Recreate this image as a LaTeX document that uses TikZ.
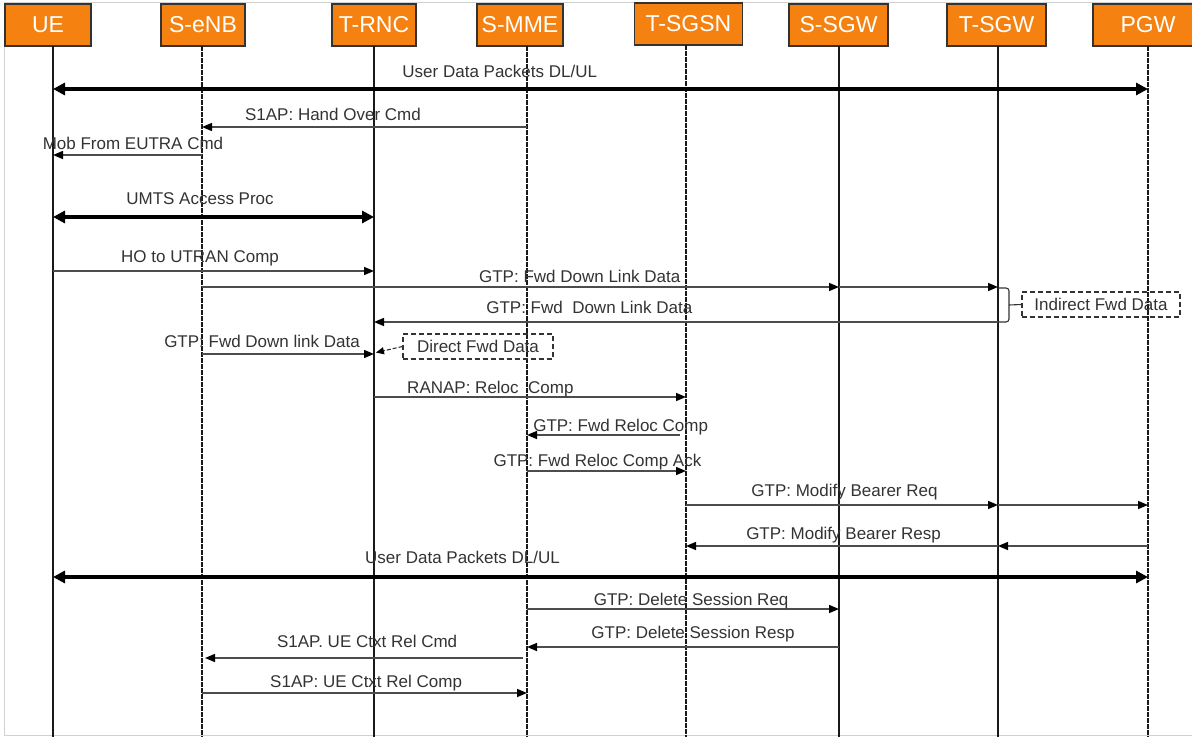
\documentclass[tikz,border=0pt]{standalone}
\usepackage{fontspec}
\setmainfont{Liberation Sans}
\usetikzlibrary{arrows.meta}

\definecolor{hdr}{RGB}{245,130,16}

\begin{document}
\begin{tikzpicture}[
    x=1pt, y=-1pt,
    font=\fontsize{17}{20}\selectfont,
    >={Triangle[length=10pt,width=8pt,color=black]},
    actor/.style={draw=black!80, line width=1.2pt, fill=hdr, text=white,
                  font=\fontsize{23}{26}\selectfont, minimum height=42pt, inner sep=0pt},
    life/.style={draw=black!90, line width=1.2pt},
    lifedash/.style={dash pattern=on 5pt off 1pt},
    msg/.style={->, draw=black!70, line width=1.5pt},
    data/.style={{Triangle[length=12pt,width=12pt]}-{Triangle[length=12pt,width=12pt]},
                 draw=black, line width=4pt},
    lbl/.style={above, inner sep=3.5pt, text height=12pt, text depth=3.5pt, text=black!80},
    note/.style={draw=black!80, dash pattern=on 5pt off 3pt, line width=1.1pt,
                 minimum height=25pt, inner sep=0pt, text=black!80},
    frame/.style={draw=black!18, line width=1pt},
]
\useasboundingbox (0,0) rectangle (1192,737);
\draw[frame] (4,2.5) rectangle (1200,735);

% ---- Headers ------------------------------------------------------
\node[actor, minimum width=86pt]  (ue)    at (48,25)     {UE};
\node[actor, minimum width=84pt]  (senb)  at (203,25)    {S-eNB};
\node[actor, minimum width=84pt]  (trnc)  at (374,25)    {T-RNC};
\node[actor, minimum width=86pt]  (smme)  at (520,25)    {S-MME};
\node[actor, minimum width=108pt] (tsgsn) at (688.5,24)  {T-SGSN};
\node[actor, minimum width=99pt]  (ssgw)  at (838.5,25)  {S-SGW};
\node[actor, minimum width=99pt]  (tsgw)  at (996.5,25)  {T-SGW};
\node[actor, minimum width=110pt] (pgw)   at (1148,25)   {PGW};

% ---- Lifelines ----------------------------------------------------
\coordinate (ue-l)    at (53,46);
\coordinate (senb-l)  at (202,46);
\coordinate (trnc-l)  at (374,46);
\coordinate (smme-l)  at (527,46);
\coordinate (tsgsn-l) at (686,45);
\coordinate (ssgw-l)  at (839,46);
\coordinate (tsgw-l)  at (998,46);
\coordinate (pgw-l)   at (1148,46);

\foreach \n in {ue,trnc,ssgw,tsgw}
    \draw[life] (\n-l) -- (\n-l |- 0,737);
\foreach \n in {senb,smme,tsgsn,pgw}
    \draw[life, lifedash] (\n-l) -- (\n-l |- 0,737);

% ---- Handover preparation -----------------------------------------
\draw[data] (ue-l |- 0,89) -- (pgw-l |- 0,89)
    node[lbl, pos=0.408, yshift=3pt] (m1) {User Data Packets DL/UL};
\draw[msg] (smme-l |- 0,127) -- (senb-l |- 0,127)
    node[lbl, pos=0.597, yshift=-1pt] (m2) {S1AP: Hand Over Cmd};
\draw[msg] (senb-l |- 0,155) -- (ue-l |- 0,155)
    node[lbl, pos=0.463, yshift=-2pt] (m3) {Mob From EUTRA Cmd};
\draw[data] (ue-l |- 0,217) -- (trnc-l |- 0,217)
    node[lbl, pos=0.458, yshift=4pt] (m4) {UMTS Access Proc};
\draw[msg] (ue-l |- 0,271) -- (trnc-l |- 0,271)
    node[lbl, pos=0.458, yshift=1pt] (m5) {HO to UTRAN Comp};

% ---- Data forwarding ----------------------------------------------
\draw[msg] (senb-l |- 0,287) -- (ssgw-l |- 0,287)
    node[lbl, pos=0.593, yshift=-3pt] (m6) {GTP: Fwd Down Link Data};
\draw[msg] (ssgw-l |- 0,287) -- (tsgw-l |- 0,287);
\draw[msg] (tsgw-l |- 0,322) -- (trnc-l |- 0,322)
    node[lbl, pos=0.655, yshift=1pt] (m7) {GTP: Fwd~~Down Link Data};

\node[note, minimum width=158pt] (indirect) at (1101,304.5) {Indirect Fwd Data};
\coordinate (brk) at (1009,305);
\draw[draw=black!80, line width=1.1pt, rounded corners=3pt]
    (tsgw-l |- 0,288) -| (brk) |- (tsgw-l |- 0,322);
\draw[draw=black!80, line width=1.1pt] (brk) -- (indirect.west);

\draw[msg] (senb-l |- 0,354) -- (trnc-l |- 0,354)
    node[lbl, pos=0.349, yshift=-1pt] (m8) {GTP: Fwd Down link Data};
\node[note, minimum width=150pt] (direct) at (478,346.5) {Direct Fwd Data};
\draw[->, dash pattern=on 4pt off 2pt, draw=black!80, line width=1.1pt, shorten >=2pt,
      >={Triangle[length=8pt,width=7pt,color=black]}]
    (direct.west) -- (trnc-l |- 0,353);

% ---- Relocation complete ------------------------------------------
\draw[msg] (trnc-l |- 0,397) -- (tsgsn-l |- 0,397)
    node[lbl, pos=0.373, yshift=-4pt] (m9) {RANAP: Reloc~~Comp};
\draw[msg, shorten <=6pt] (tsgsn-l |- 0,435) -- (smme-l |- 0,435)
    node[lbl, pos=0.411, yshift=-4pt] (m10) {GTP: Fwd Reloc Comp};
\draw[msg] (smme-l |- 0,471) -- (tsgsn-l |- 0,471)
    node[lbl, pos=0.443, yshift=-3pt] (m11) {GTP: Fwd Reloc Comp Ack};

% ---- Bearer modification ------------------------------------------
\draw[msg] (tsgsn-l |- 0,505) -- (tsgw-l |- 0,505)
    node[lbl, pos=0.508, yshift=1pt] (m12) {GTP: Modify Bearer Req};
\draw[msg] (tsgw-l |- 0,505) -- (pgw-l |- 0,505);
\draw[msg] (pgw-l |- 0,546) -- (tsgw-l |- 0,546);
\draw[msg] (tsgw-l |- 0,546) -- (tsgsn-l |- 0,546)
    node[lbl, pos=0.495, yshift=-1pt] (m13) {GTP: Modify Bearer Resp};
\draw[data] (ue-l |- 0,577) -- (pgw-l |- 0,577)
    node[lbl, pos=0.374, yshift=5pt] (m14) {User Data Packets DL/UL};

% ---- Source release -----------------------------------------------
\draw[msg] (smme-l |- 0,609) -- (ssgw-l |- 0,609)
    node[lbl, pos=0.526, yshift=-4pt] (m15) {GTP: Delete Session Req};
\draw[msg] (ssgw-l |- 0,647) -- (smme-l |- 0,647)
    node[lbl, pos=0.468, yshift=1pt] (m16) {GTP: Delete Session Resp};
\draw[msg, shorten <=4pt, shorten >=3pt] (smme-l |- 0,658) -- (senb-l |- 0,658)
    node[lbl, pos=0.492, yshift=3pt] (m17) {S1AP. UE Ctxt Rel Cmd};
\draw[msg] (senb-l |- 0,693) -- (smme-l |- 0,693)
    node[lbl, pos=0.505, yshift=-2pt] (m18) {S1AP: UE Ctxt Rel Comp};

\end{tikzpicture}
\end{document}
